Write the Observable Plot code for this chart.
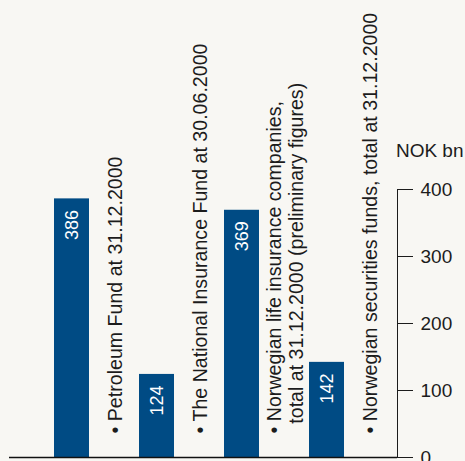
<!DOCTYPE html>
<html>
<head>
<meta charset="utf-8">
<script src="https://cdn.jsdelivr.net/npm/d3@7"></script>
<script src="https://cdn.jsdelivr.net/npm/@observablehq/plot@0.6"></script>
<style>
  html, body { margin: 0; padding: 0; background: #f8f7f3; }
  #chart { width: 465px; height: 461px; }
  svg { display: block; }
</style>
</head>
<body>
<div id="chart"></div>
<script>
const categories = ["Petroleum Fund", "National Insurance Fund", "Life insurance companies", "Securities funds"];
const values = [386, 124, 369, 142];
const labels = [
  "• Petroleum Fund at 31.12.2000",
  "• The National Insurance Fund at 30.06.2000",
  "• Norwegian life insurance companies,\n\u2002total at 31.12.2000 (preliminary figures)",
  "• Norwegian securities funds, total at 31.12.2000"
];
const yTicks = [0, 100, 200, 300, 400];
const unitLabel = "NOK bn";

const data = categories.map((c, i) => ({category: c, value: values[i], label: labels[i]}));

const font = "'Liberation Sans', Arial, Helvetica, sans-serif";
const ink = "#1c1c1c";
const barColor = "#004b84";

const plot = Plot.plot({
  width: 465,
  height: 461,
  marginTop: 189,
  marginBottom: 4,
  marginLeft: 9,
  marginRight: 68,
  style: {background: "#f8f7f3", fontFamily: font, fontSize: "19px", color: ink, overflow: "visible"},
  x: {type: "band", domain: categories, paddingInner: 0.59, paddingOuter: 0.56, align: 0.46, axis: null},
  y: {
    domain: [0, 400], axis: "right", ticks: yTicks, tickSize: 15, tickPadding: 8,
    line: true, tickFormat: d => String(d), label: null
  },
  marks: [
    Plot.barY(data, {x: "category", y: "value", fill: barColor}),
    Plot.text(data, {
      x: "category", y: "value", text: d => String(d.value),
      rotate: -90, textAnchor: "end", lineAnchor: "middle",
      dy: 11, fill: "white", fontSize: 18
    }),
    Plot.text(data, {
      x: "category", text: "label", frameAnchor: "bottom",
      rotate: -90, textAnchor: "start", lineAnchor: "middle", lineHeight: 1.1,
      dx: 43, dy: -24, fill: ink, fontSize: 19.6
    }),
    Plot.ruleY([0], {stroke: "#111", strokeWidth: 1.5}),
    Plot.text([unitLabel], {
      frameAnchor: "top-right", text: d => d, textAnchor: "end",
      dx: 66, dy: -46, fill: ink, fontSize: 19
    })
  ]
});

document.getElementById("chart").appendChild(plot);
</script>
</body>
</html>
